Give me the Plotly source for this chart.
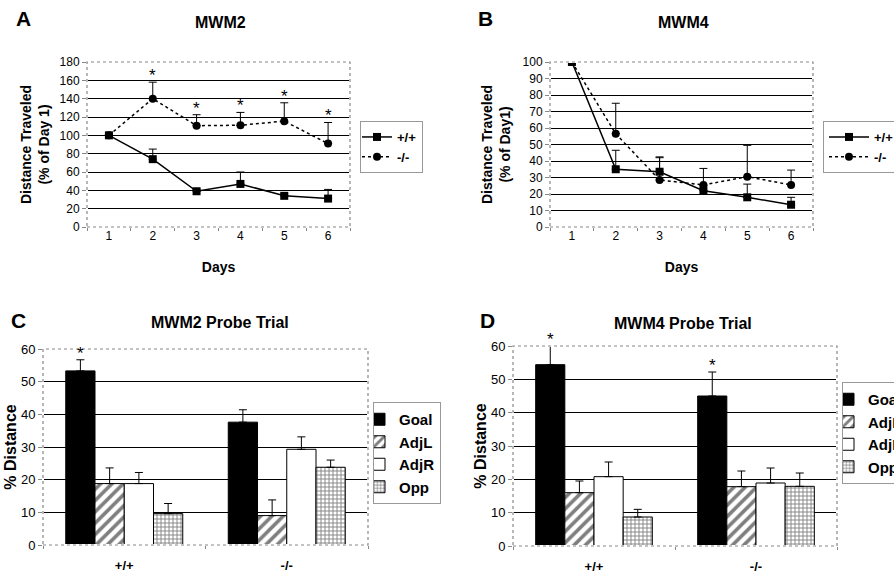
import plotly.graph_objects as go

FONT = "Liberation Sans, Arial, sans-serif"

# ---------------- data ----------------
days = ["1", "2", "3", "4", "5", "6"]

a_wt = [100, 74, 39, 47, 34, 31]
a_wt_err = [0, 11, 2, 13, 2, 10]
a_ko = [100, 140, 110.5, 111, 115.5, 91]
a_ko_err = [0, 18, 12, 14, 20, 23]
a_sig = [False, True, True, True, True, True]

b_wt = [100, 35, 33.5, 22, 18, 13.5]
b_wt_err = [0, 11.5, 8.5, 3, 8, 4.5]
b_ko = [100, 56.5, 28.5, 25.5, 30.5, 25.5]
b_ko_err = [0, 18.5, 14, 10, 19, 9]

genotypes = ["+/+", "-/-"]
quadrants = ["Goal", "AdjL", "AdjR", "Opp"]

c_vals = {"Goal": [53.3, 37.6], "AdjL": [18.8, 9.0], "AdjR": [18.8, 29.3], "Opp": [9.6, 23.8]}
c_err = {"Goal": [3.4, 3.8], "AdjL": [4.8, 4.8], "AdjR": [3.4, 3.8], "Opp": [3.1, 2.2]}
c_sig = {"Goal": [True, False]}

d_vals = {"Goal": [54.4, 45.0], "AdjL": [16.0, 17.8], "AdjR": [20.8, 18.9], "Opp": [8.7, 17.9]}
d_err = {"Goal": [5.6, 7.2], "AdjL": [3.5, 4.7], "AdjR": [4.4, 4.5], "Opp": [2.3, 4.0]}
d_sig = {"Goal": [True, True]}

BARGAP = 0.28

quad_style = {
    "Goal": dict(color="black", line=dict(color="black", width=1)),
    "AdjL": dict(color="white", line=dict(color="black", width=1),
                 pattern=dict(shape="/", fgcolor="black", bgcolor="white", size=8, solidity=0.45)),
    "AdjR": dict(color="white", line=dict(color="black", width=1)),
    "Opp": dict(color="white", line=dict(color="black", width=1),
                pattern=dict(shape="+", fgcolor="black", bgcolor="white", size=4, solidity=0.4)),
}

fig = go.Figure()


def err(arr):
    return dict(type="data", symmetric=False, array=arr, arrayminus=[0] * len(arr),
                color="black", thickness=1, width=4)


# ---------------- line panels ----------------
for (wt, wte, ko, koe, xa, ya, lg) in [
    (a_wt, a_wt_err, a_ko, a_ko_err, "x", "y", "legend"),
    (b_wt, b_wt_err, b_ko, b_ko_err, "x2", "y2", "legend2"),
]:
    fig.add_trace(go.Scatter(x=days, y=wt, error_y=err(wte), mode="lines+markers", name="<b>+/+</b>",
                             line=dict(color="black", width=1.5),
                             marker=dict(symbol="square", size=8, color="black"),
                             xaxis=xa, yaxis=ya, legend=lg))
    fig.add_trace(go.Scatter(x=days, y=ko, error_y=err(koe), mode="lines+markers", name="<b>-/-</b>",
                             line=dict(color="black", width=1.5, dash="dot"),
                             marker=dict(symbol="circle", size=8, color="black"),
                             xaxis=xa, yaxis=ya, legend=lg))

annotations = []
for i, s in enumerate(a_sig):
    if s:
        annotations.append(dict(x=i, y=a_ko[i] + a_ko_err[i], xref="x", yref="y",
                                text="*", showarrow=False, xanchor="center", yanchor="bottom", yshift=-5,
                                font=dict(family=FONT, size=17, color="black")))

# ---------------- bar panels ----------------
bw = (1 - BARGAP) / len(quadrants)
for (vals, errs, sig, xa, ya, lg) in [
    (c_vals, c_err, c_sig, "x3", "y3", "legend3"),
    (d_vals, d_err, d_sig, "x4", "y4", "legend4"),
]:
    for qi, q in enumerate(quadrants):
        fig.add_trace(go.Bar(x=genotypes, y=vals[q], error_y=err(errs[q]), name="<b>" + q + "</b>",
                             marker=quad_style[q], xaxis=xa, yaxis=ya, legend=lg))
        if q in sig:
            for gi, s in enumerate(sig[q]):
                if s:
                    annotations.append(dict(x=gi + (qi - 1.5) * bw, y=vals[q][gi] + errs[q][gi],
                                            xref=xa, yref=ya, text="*", showarrow=False,
                                            xanchor="center", yanchor="bottom", yshift=-5,
                                            font=dict(family=FONT, size=17, color="black")))

W, H = 894, 578


def px(x0, x1):
    return [x0 / W, x1 / W]


def py(top, bottom):
    return [1 - bottom / H, 1 - top / H]


tickfont = dict(family=FONT, size=12, color="black")
tickfont2 = dict(family=FONT, size=13, color="black")
bold = dict(family=FONT, size=14, color="black")

xcommon = dict(type="category", tickson="boundaries", ticks="outside", ticklen=3,
               tickcolor="#888", showgrid=False, zeroline=False, showline=False)
ycommon = dict(showgrid=True, gridcolor="black", gridwidth=1, zeroline=False, showline=False,
               ticks="outside", ticklen=4, tickcolor="#888")

legend_common = dict(xanchor="left", yanchor="top", bordercolor="#999", borderwidth=1,
                     bgcolor="white")

fig.update_layout(
    width=W, height=H, margin=dict(l=0, r=0, t=0, b=0, autoexpand=False),
    paper_bgcolor="white", plot_bgcolor="white",
    barmode="group", bargap=BARGAP, bargroupgap=0,
    xaxis=dict(domain=px(87, 350), anchor="y", range=[-0.5, 5.5], tickfont=tickfont,
               title=dict(text="<b>Days</b>", font=bold, standoff=20), **xcommon),
    yaxis=dict(domain=py(62, 227), anchor="x", range=[0, 180], dtick=20, tickfont=tickfont,
               title=dict(text="<b>Distance Traveled<br>(% of Day 1)</b>", font=bold, standoff=6),
               **ycommon),
    xaxis2=dict(domain=px(550, 813), anchor="y2", range=[-0.5, 5.5], tickfont=tickfont,
                title=dict(text="<b>Days</b>", font=bold, standoff=20), **xcommon),
    yaxis2=dict(domain=py(62, 227), anchor="x2", range=[0, 100], dtick=10, tickfont=tickfont,
                title=dict(text="<b>Distance Traveled<br>(% of Day1)</b>", font=bold, standoff=8),
                **ycommon),
    xaxis3=dict(domain=px(43, 368), anchor="y3", range=[-0.5, 1.5],
                tickfont=dict(family=FONT, size=13, color="black"),
                ticklabelstandoff=11, **xcommon),
    yaxis3=dict(domain=py(349, 545), anchor="x3", range=[0, 60], dtick=10, tickfont=tickfont2,
                title=dict(text="<b>% Distance</b>", font=dict(family=FONT, size=16, color="black"),
                           standoff=0), **ycommon),
    xaxis4=dict(domain=px(513, 837), anchor="y4", range=[-0.5, 1.5],
                tickfont=dict(family=FONT, size=13, color="black"),
                ticklabelstandoff=11, **xcommon),
    yaxis4=dict(domain=py(346, 546), anchor="x4", range=[0, 60], dtick=10, tickfont=tickfont2,
                title=dict(text="<b>% Distance</b>", font=dict(family=FONT, size=16, color="black"),
                           standoff=0), **ycommon),
    legend=dict(x=360 / W, y=1 - 121 / H, font=dict(family=FONT, size=13, color="black"),
                itemwidth=30, indentation=-4, **legend_common),
    legend2=dict(x=823 / W, y=1 - 121 / H, font=dict(family=FONT, size=13, color="black"),
                 itemwidth=40, indentation=0, **legend_common),
    legend3=dict(x=373 / W, y=1 - 402 / H, font=dict(family=FONT, size=15, color="black"),
                 itemwidth=30, indentation=-15, **legend_common),
    legend4=dict(x=842 / W, y=1 - 382 / H, font=dict(family=FONT, size=15, color="black"),
                 itemwidth=30, indentation=-15, **legend_common),
    showlegend=True,
)

# bold category tick labels for bar panels
fig.update_layout(xaxis3_tickvals=genotypes, xaxis3_ticktext=["<b>" + g + "</b>" for g in genotypes],
                  xaxis4_tickvals=genotypes, xaxis4_ticktext=["<b>" + g + "</b>" for g in genotypes])

# panel letters and titles
for (txt, x, y, size) in [("A", 23, 18, 21), ("B", 485, 18, 21), ("C", 18, 320, 21), ("D", 487, 320, 21)]:
    annotations.append(dict(x=x / W, y=1 - y / H, xref="paper", yref="paper", text="<b>" + txt + "</b>",
                            showarrow=False, xanchor="center", yanchor="middle",
                            font=dict(family=FONT, size=size, color="black")))
for (txt, x, y, size) in [("MWM2", 220, 22, 16), ("MWM4", 683, 22, 16),
                          ("MWM2 Probe Trial", 220, 322, 16), ("MWM4 Probe Trial", 683, 323, 16)]:
    annotations.append(dict(x=x / W, y=1 - y / H, xref="paper", yref="paper", text="<b>" + txt + "</b>",
                            showarrow=False, xanchor="center", yanchor="middle",
                            font=dict(family=FONT, size=size, color="black")))
fig.update_layout(annotations=annotations)

# plot-area frames: hide edge gridlines, then a light dotted border
for xa, ya in [("x", "y"), ("x2", "y2"), ("x3", "y3"), ("x4", "y4")]:
    fig.add_shape(type="rect", xref=xa + " domain", yref=ya + " domain", x0=0, x1=1, y0=0, y1=1,
                  line=dict(color="white", width=2), layer="above")
    fig.add_shape(type="rect", xref=xa + " domain", yref=ya + " domain", x0=0, x1=1, y0=0, y1=1,
                  line=dict(color="#888", width=1.2, dash="dot"), layer="above")

fig.write_html("out.html")
